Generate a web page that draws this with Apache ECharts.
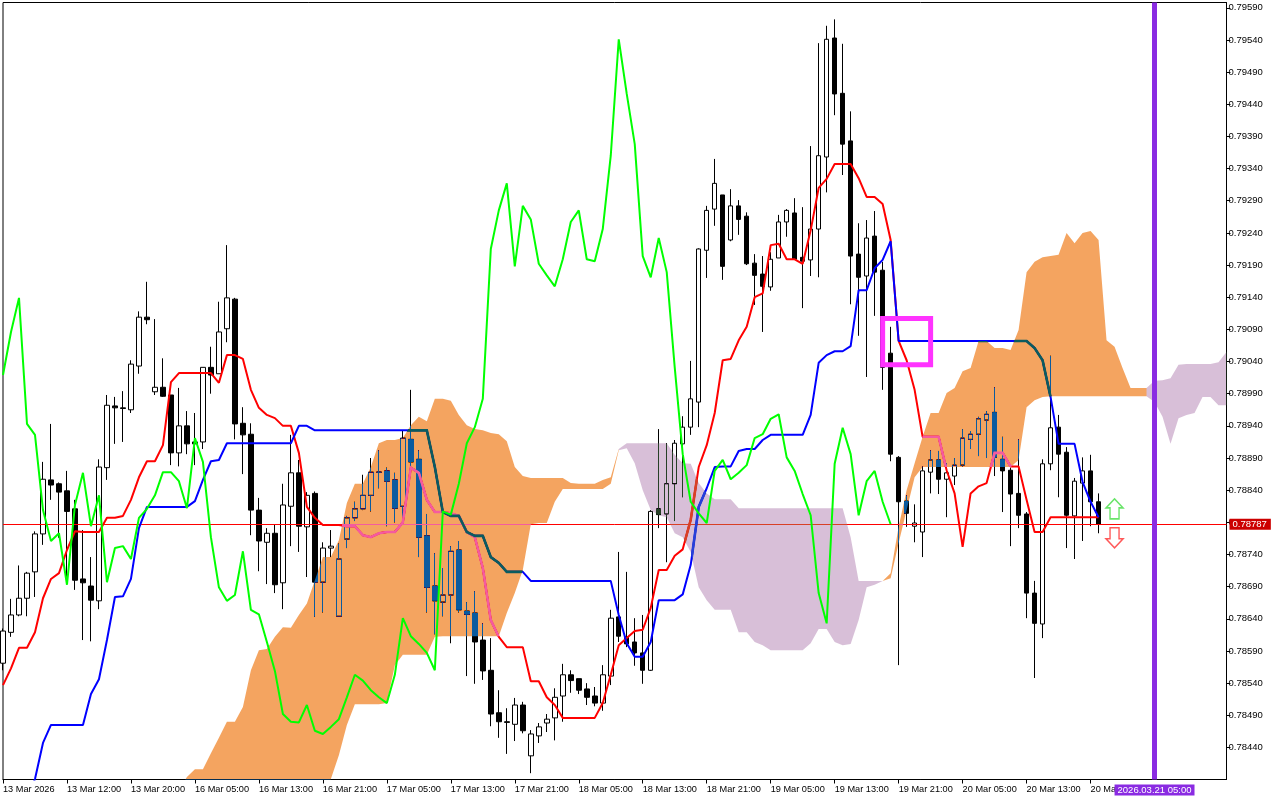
<!DOCTYPE html>
<html>
<head>
<meta charset="utf-8">
<title>Ichimoku H1</title>
<style>
  html, body { margin: 0; padding: 0; background: #fff; }
  #chart { width: 1280px; height: 800px; }
</style>
<script src="https://cdn.jsdelivr.net/npm/echarts@6/dist/echarts.min.js"></script>
</head>
<body>
<div id="chart"></div>
<script>
// ============================================================================
// Data
// ============================================================================

const xTickLabels = ['13 Mar 2026','13 Mar 12:00','13 Mar 20:00','16 Mar 05:00','16 Mar 13:00','16 Mar 21:00','17 Mar 05:00','17 Mar 13:00','17 Mar 21:00','18 Mar 05:00','18 Mar 13:00','18 Mar 21:00','19 Mar 05:00','19 Mar 13:00','19 Mar 21:00','20 Mar 05:00','20 Mar 13:00','20 Mar 21:00']
const yTickValues = [0.78440,0.78490,0.78540,0.78590,0.78640,0.78690,0.78740,0.78790,0.78840,0.78890,0.78940,0.78990,0.79040,0.79090,0.79140,0.79190,0.79240,0.79290,0.79340,0.79390,0.79440,0.79490,0.79540,0.79590]

const opens = [
  0.78571,0.78619,0.78646,0.78672,0.78713,0.78772,0.78856,0.78850,0.78839,0.78811,
  0.78702,0.78691,0.78668,0.78875,0.78971,0.78968,0.78965,0.79033,0.79109,0.78993,
  0.79000,0.78988,0.78898,0.78940,0.78915,0.78915,0.79031,0.79021,0.79091,0.79137,
  0.78944,0.78927,0.78809,0.78759,0.78773,0.78696,0.78815,0.78867,0.78783,0.78835,
  0.78697,0.78750,0.78644,0.78764,0.78797,0.78811,0.78832,0.78868,0.78870,0.78856,
  0.78815,0.78919,0.78888,0.78769,0.78691,0.78666,0.78677,0.78747,0.78652,0.78649,
  0.78607,0.78560,0.78494,0.78480,0.78476,0.78506,0.78427,0.78458,0.78478,0.78486,
  0.78520,0.78553,0.78547,0.78531,0.78520,0.78509,0.78551,0.78643,0.78612,0.78604,
  0.78587,0.78560,0.78811,0.78803,0.78850,0.78912,0.78938,0.78977,0.79213,0.79277,
  0.79299,0.79229,0.79282,0.79266,0.79193,0.79176,0.79156,0.79201,0.79257,0.79271,
  0.79202,0.79198,0.79246,0.79358,0.79543,0.79457,0.79383,0.79207,0.79173,0.79235,
  0.79182,0.79053,0.78891,0.78823,0.78784,0.78775,0.78868,0.78887,0.78857,0.78862,
  0.78879,0.78919,0.78927,0.78949,0.78961,0.78888,0.78871,0.78835,0.78803,0.78680,
  0.78632,0.78881,0.78938,0.78899,0.78800,0.78851,0.78870,0.78822
]
const closes = [
  0.78621,0.78646,0.78672,0.78711,0.78772,0.78857,0.78848,0.78837,0.78807,0.78700,
  0.78696,0.78669,0.78876,0.78972,0.78968,0.78967,0.79036,0.79109,0.79105,0.79000,
  0.78986,0.78898,0.78940,0.78912,0.78912,0.79031,0.79019,0.79086,0.79139,0.78943,
  0.78926,0.78809,0.78761,0.78773,0.78693,0.78817,0.78867,0.78784,0.78832,0.78697,
  0.78750,0.78753,0.78733,0.78797,0.78811,0.78832,0.78868,0.78868,0.78854,0.78812,
  0.78921,0.78884,0.78767,0.78689,0.78668,0.78677,0.78745,0.78654,0.78647,0.78604,
  0.78559,0.78492,0.78480,0.78479,0.78506,0.78466,0.78461,0.78472,0.78484,0.78518,
  0.78553,0.78544,0.78529,0.78518,0.78509,0.78553,0.78641,0.78613,0.78601,0.78587,
  0.78560,0.78807,0.78802,0.78850,0.78913,0.78938,0.78982,0.79215,0.79275,0.79317,
  0.79188,0.79282,0.79261,0.79192,0.79174,0.79157,0.79199,0.79257,0.79275,0.79199,
  0.79196,0.79246,0.79360,0.79541,0.79456,0.79378,0.79204,0.79171,0.79232,0.79179,
  0.79031,0.78896,0.78822,0.78804,0.78789,0.78870,0.78887,0.78857,0.78867,0.78879,
  0.78921,0.78927,0.78951,0.78958,0.78891,0.78870,0.78834,0.78801,0.78680,0.78633,
  0.78881,0.78937,0.78896,0.78801,0.78854,0.78870,0.78822,0.78787
]
const lows = [
  0.78560,0.78612,0.78644,0.78644,0.78674,0.78755,0.78825,0.78766,0.78696,0.78685,
  0.78607,0.78605,0.78655,0.78856,0.78912,0.78915,0.78960,0.79021,0.79098,0.78988,
  0.78985,0.78879,0.78877,0.78896,0.78879,0.78904,0.78990,0.79021,0.79070,0.78919,
  0.78865,0.78770,0.78714,0.78694,0.78680,0.78655,0.78753,0.78744,0.78705,0.78643,
  0.78650,0.78736,0.78644,0.78750,0.78792,0.78809,0.78807,0.78843,0.78784,0.78790,
  0.78798,0.78875,0.78736,0.78650,0.78616,0.78644,0.78602,0.78650,0.78551,0.78539,
  0.78545,0.78473,0.78455,0.78430,0.78450,0.78462,0.78400,0.78447,0.78464,0.78451,
  0.78480,0.78525,0.78523,0.78506,0.78504,0.78497,0.78537,0.78604,0.78596,0.78567,
  0.78539,0.78559,0.78781,0.78728,0.78792,0.78829,0.78926,0.78938,0.79170,0.79251,
  0.79167,0.79227,0.79237,0.79190,0.79128,0.79086,0.79150,0.79201,0.79234,0.79198,
  0.79123,0.79173,0.79171,0.79303,0.79423,0.79330,0.79129,0.79080,0.79016,0.79111,
  0.78996,0.78885,0.78568,0.78783,0.78759,0.78736,0.78835,0.78834,0.78798,0.78848,
  0.78877,0.78904,0.78893,0.78890,0.78862,0.78806,0.78753,0.78781,0.78641,0.78548,
  0.78610,0.78871,0.78829,0.78750,0.78733,0.78761,0.78784,0.78773
]
const highs = [
  0.78625,0.78671,0.78723,0.78713,0.78776,0.78884,0.78943,0.78852,0.78870,0.78825,
  0.78778,0.78736,0.78888,0.78988,0.78985,0.78994,0.79042,0.79118,0.79164,0.79106,
  0.79045,0.78988,0.78999,0.78963,0.78960,0.79031,0.79063,0.79133,0.79221,0.79139,
  0.78969,0.78944,0.78828,0.78781,0.78786,0.78850,0.78926,0.78887,0.78837,0.78838,
  0.78759,0.78778,0.78757,0.78800,0.78822,0.78864,0.78890,0.78902,0.78875,0.78867,
  0.78933,0.78996,0.78902,0.78803,0.78742,0.78719,0.78753,0.78761,0.78666,0.78683,
  0.78633,0.78610,0.78529,0.78501,0.78517,0.78511,0.78467,0.78478,0.78492,0.78532,
  0.78570,0.78560,0.78547,0.78540,0.78534,0.78568,0.78654,0.78744,0.78713,0.78641,
  0.78646,0.78809,0.78935,0.78913,0.78918,0.78955,0.79041,0.79216,0.79282,0.79355,
  0.79299,0.79308,0.79291,0.79272,0.79207,0.79204,0.79210,0.79268,0.79277,0.79294,
  0.79280,0.79375,0.79535,0.79562,0.79572,0.79534,0.79429,0.79255,0.79260,0.79274,
  0.79195,0.79094,0.78893,0.78832,0.78818,0.78877,0.78902,0.78901,0.78882,0.78890,
  0.78935,0.78932,0.78954,0.78963,0.79000,0.78923,0.78875,0.78919,0.78806,0.78699,
  0.78888,0.79049,0.78957,0.78907,0.78859,0.78891,0.78895,0.78835
]

const tenkan = [
  0.78537,0.78563,0.78595,0.78595,0.78619,0.78672,0.78702,0.78711,0.78747,0.78776,
  0.78775,0.78775,0.78775,0.78797,0.78797,0.78800,0.78825,0.78860,0.78885,0.78885,
  0.78910,0.79008,0.79022,0.79022,0.79022,0.79022,0.79022,0.79007,0.79050,0.79050,
  0.79044,0.78996,0.78968,0.78957,0.78952,0.78940,0.78940,0.78898,0.78814,0.78797,
  0.78786,0.78786,0.78786,0.78784,0.78784,0.78770,0.78767,0.78773,0.78775,0.78775,
  0.78790,0.78875,0.78867,0.78825,0.78806,0.78806,0.78804,0.78800,0.78775,0.78767,
  0.78719,0.78638,0.78612,0.78596,0.78596,0.78596,0.78543,0.78543,0.78518,0.78506,
  0.78486,0.78486,0.78486,0.78486,0.78486,0.78509,0.78553,0.78599,0.78610,0.78621,
  0.78623,0.78657,0.78716,0.78716,0.78738,0.78748,0.78794,0.78876,0.78910,0.78960,
  0.79042,0.79044,0.79073,0.79094,0.79140,0.79146,0.79221,0.79223,0.79199,0.79199,
  0.79192,0.79244,0.79310,0.79324,0.79347,0.79347,0.79347,0.79325,0.79296,0.79296,
  0.79285,0.79229,0.79072,0.79042,0.78996,0.78923,0.78923,0.78923,0.78871,0.78835,
  0.78752,0.78835,0.78846,0.78851,0.78898,0.78898,0.78877,0.78877,0.78825,0.78775,
  0.78775,0.78798,0.78798,0.78798,0.78798,0.78798,0.78798,0.78798
]
const kijun = [
  0.78280,0.78312,0.78335,0.78358,0.78391,0.78447,0.78475,0.78475,0.78475,0.78475,
  0.78475,0.78523,0.78546,0.78607,0.78674,0.78675,0.78702,0.78781,0.78814,0.78814,
  0.78814,0.78814,0.78814,0.78814,0.78823,0.78856,0.78885,0.78887,0.78913,0.78913,
  0.78913,0.78913,0.78913,0.78913,0.78913,0.78913,0.78913,0.78940,0.78940,0.78933,
  0.78933,0.78933,0.78933,0.78933,0.78933,0.78933,0.78933,0.78933,0.78933,0.78933,
  0.78933,0.78933,0.78933,0.78933,0.78876,0.78806,0.78800,0.78800,0.78775,0.78769,
  0.78769,0.78736,0.78727,0.78713,0.78713,0.78713,0.78699,0.78699,0.78699,0.78699,
  0.78699,0.78699,0.78699,0.78699,0.78699,0.78699,0.78699,0.78646,0.78602,0.78581,
  0.78581,0.78604,0.78669,0.78669,0.78669,0.78678,0.78724,0.78814,0.78843,0.78876,
  0.78877,0.78877,0.78901,0.78904,0.78904,0.78918,0.78926,0.78926,0.78926,0.78926,
  0.78926,0.78957,0.79038,0.79050,0.79056,0.79056,0.79064,0.79151,0.79151,0.79185,
  0.79198,0.79227,0.79072,0.79072,0.79072,0.79072,0.79072,0.79072,0.79072,0.79072,
  0.79072,0.79072,0.79072,0.79072,0.79072,0.79072,0.79072,0.79072,0.79072,0.79061,
  0.79042,0.78985,0.78912,0.78912,0.78912,0.78853,0.78822,0.78798
]
const chikou = [
  0.79019,0.79086,0.79139,0.78943,0.78926,0.78809,0.78761,0.78773,0.78693,0.78817,
  0.78867,0.78784,0.78832,0.78697,0.78750,0.78753,0.78733,0.78797,0.78811,0.78832,
  0.78868,0.78868,0.78854,0.78812,0.78921,0.78884,0.78767,0.78689,0.78668,0.78677,
  0.78745,0.78654,0.78647,0.78604,0.78559,0.78492,0.78480,0.78479,0.78506,0.78466,
  0.78461,0.78472,0.78484,0.78518,0.78553,0.78544,0.78529,0.78518,0.78509,0.78553,
  0.78641,0.78613,0.78601,0.78587,0.78560,0.78807,0.78802,0.78850,0.78913,0.78938,
  0.78982,0.79215,0.79275,0.79317,0.79188,0.79282,0.79261,0.79192,0.79174,0.79157,
  0.79199,0.79257,0.79275,0.79199,0.79196,0.79246,0.79360,0.79541,0.79456,0.79378,
  0.79204,0.79171,0.79232,0.79179,0.79031,0.78896,0.78822,0.78804,0.78789,0.78870,
  0.78887,0.78857,0.78867,0.78879,0.78921,0.78927,0.78951,0.78958,0.78891,0.78870,
  0.78834,0.78801,0.78680,0.78633,0.78881,0.78937,0.78896,0.78801,0.78854,0.78870,
  0.78822,0.78787
]

// cloud pieces, each one starts at its own bar index
const bullCloudAStart = 22
const bullCloudATop = [
  0.78374,0.78394,0.78406,0.78406,0.78431,0.78455,0.78480,0.78480,0.78503,0.78560,
  0.78591,0.78593,0.78612,0.78627,0.78626,0.78646,0.78664,0.78700,0.78736,0.78736,
  0.78762,0.78820,0.78850,0.78850,0.78876,0.78913,0.78918,0.78918,0.78921,0.78941,
  0.78954,0.78947,0.78982,0.78982,0.78979,0.78957,0.78941,0.78935,0.78933,0.78929,
  0.78927,0.78916,0.78876,0.78862,0.78859,0.78859,0.78859,0.78859,0.78859,0.78851,
  0.78850,0.78850,0.78850,0.78856,0.78860,0.78904
]
const bullCloudABottom = [
  0.78374,0.78358,0.78358,0.78358,0.78358,0.78358,0.78358,0.78358,0.78358,0.78358,
  0.78358,0.78358,0.78358,0.78358,0.78358,0.78358,0.78358,0.78358,0.78358,0.78391,
  0.78428,0.78475,0.78507,0.78507,0.78507,0.78507,0.78509,0.78568,0.78584,0.78584,
  0.78584,0.78584,0.78612,0.78613,0.78613,0.78613,0.78613,0.78613,0.78613,0.78613,
  0.78613,0.78649,0.78680,0.78716,0.78787,0.78789,0.78789,0.78822,0.78842,0.78842,
  0.78842,0.78842,0.78842,0.78842,0.78850,0.78902
]
const bearCloudAStart = 77
const bearCloudATop = [
  0.78904,0.78913,0.78913,0.78913,0.78913,0.78913,0.78913,0.78895,0.78882,0.78881,
  0.78851,0.78835,0.78826,0.78826,0.78826,0.78812,0.78812,0.78812,0.78812,0.78812,
  0.78812,0.78812,0.78812,0.78812,0.78812,0.78812,0.78812,0.78812,0.78812,0.78767,
  0.78699,0.78699,0.78699,0.78699
]
const bearCloudABottom = [
  0.78902,0.78905,0.78882,0.78840,0.78809,0.78801,0.78798,0.78773,0.78767,0.78744,
  0.78689,0.78669,0.78654,0.78654,0.78654,0.78619,0.78619,0.78604,0.78599,0.78591,
  0.78591,0.78591,0.78591,0.78591,0.78602,0.78624,0.78624,0.78604,0.78599,0.78601,
  0.78638,0.78689,0.78693,0.78699
]
const bullCloudBStart = 110
const bullCloudBTop = [
  0.78699,0.78711,0.78783,0.78840,0.78882,0.78923,0.78960,0.78960,0.78991,0.78999,
  0.79025,0.79030,0.79072,0.79072,0.79061,0.79061,0.79058,0.79089,0.79179,0.79195,
  0.79202,0.79204,0.79206,0.79240,0.79224,0.79240,0.79243,0.79229,0.79073,0.79063,
  0.79030,0.78999,0.78999,0.78999
]
const bullCloudBBottom = [
  0.78699,0.78703,0.78758,0.78809,0.78860,0.78876,0.78876,0.78876,0.78876,0.78876,
  0.78876,0.78876,0.78876,0.78876,0.78876,0.78876,0.78876,0.78887,0.78969,0.78980,
  0.78985,0.78986,0.78986,0.78986,0.78986,0.78986,0.78986,0.78986,0.78986,0.78986,
  0.78986,0.78986,0.78986,0.78986
]
const bearCloudBStart = 143
const bearCloudBTop = [0.78999,0.79010,0.79011,0.79014,0.79035,0.79036,0.79036,0.79036,0.79036,0.79039,0.79055]
const bearCloudBBottom = [0.78986,0.78977,0.78954,0.78912,0.78952,0.78957,0.78960,0.78985,0.78985,0.78972,0.78972]

const lastPrice = 0.78787
const expiryBar = 144
const expiryLabel = '2026.03.21 05:00'
const boxBars = [110, 116]
const boxPrices = [0.79107, 0.79035]
const arrowBar = 139
const arrowUpPrice = 0.78811
const arrowDownPrice = 0.78766

// ============================================================================
// Helpers
// ============================================================================

const _barCount = 154
const _font = 'Liberation Sans'
const categories = []
for (let i = 0; i < _barCount; i++) {
    categories.push(i % 8 === 0 && xTickLabels[i / 8] ? xTickLabels[i / 8] : '')
}
const _hasTick = (idx, value) => value !== ''

// difference blend over white gives sandybrown / thistle, and flips the candles
// and lines underneath the same way the terminal does
const _bull = {fill: '#0B5B9F', tenkan: '#F45B9F', kijun: '#0B5B60'}
const _bear = {fill: '#274027', tenkan: '#D84027', kijun: '#2740D8'}
const _cloudPieces = [
    {start: bullCloudAStart, top: bullCloudATop, bottom: bullCloudABottom, colors: _bull},
    {start: bearCloudAStart, top: bearCloudATop, bottom: bearCloudABottom, colors: _bear},
    {start: bullCloudBStart, top: bullCloudBTop, bottom: bullCloudBBottom, colors: _bull},
    {start: bearCloudBStart, top: bearCloudBTop, bottom: bearCloudBBottom, colors: _bear},
]

function _cloudPoints(piece, api) {
    const upper = piece.top.map((v, k) => api.coord([piece.start + k, v]))
    const lower = piece.bottom.map((v, k) => api.coord([piece.start + k, v])).reverse()
    return upper.concat(lower)
}

function _renderCloud(params, api) {
    const piece = _cloudPieces[params.dataIndex]
    return {
        type: 'polygon',
        shape: {points: _cloudPoints(piece, api)},
        style: {fill: piece.colors.fill, stroke: null},
    }
}

// the blend leaves dark fringes on the antialiased lines, so redraw them clean inside the cloud
function _renderCloudLines(params, api) {
    const piece = _cloudPieces[params.dataIndex]
    const clip = {type: 'polygon', shape: {points: _cloudPoints(piece, api)}}
    const stroke = (values, color) => ({
        type: 'polyline',
        shape: {points: values.map((v, i) => api.coord([i, v]))},
        style: {fill: null, stroke: color, lineWidth: 2.6},
        clipPath: clip,
    })
    return {
        type: 'group',
        children: [stroke(tenkan, piece.colors.tenkan), stroke(kijun, piece.colors.kijun)],
    }
}

function _renderBox(params, api) {
    const a = api.coord([api.value(0), api.value(2)])
    const b = api.coord([api.value(1), api.value(3)])
    return {
        type: 'rect',
        shape: {x: a[0], y: a[1], width: b[0] - a[0], height: b[1] - a[1]},
        style: {fill: null, stroke: '#FF33FF', lineWidth: 5},
    }
}

function _lineSeries(name, data, color, z) {
    return {
        name: name,
        type: 'line',
        data: data,
        z: z,
        showSymbol: false,
        silent: true,
        lineStyle: {color: color, width: 2},
    }
}

function _arrowSeries(price, path, color) {
    return {
        type: 'scatter',
        data: [[arrowBar, price]],
        z: 6,
        silent: true,
        symbol: path,
        symbolSize: [17, 20],
        itemStyle: {color: '#fff', borderColor: color, borderWidth: 1.5},
    }
}

// ============================================================================
// Entrypoint
// ============================================================================

const chart = echarts.init(document.getElementById('chart'))
chart.setOption({
    animation: false,
    backgroundColor: '#fff',
    grid: {left: 2.5, top: 2.5, width: 1224, height: 777, show: true, borderColor: '#000', borderWidth: 1, backgroundColor: 'transparent'},
    xAxis: {
        type: 'category',
        data: categories,
        boundaryGap: false,
        axisLine: {lineStyle: {color: '#000', width: 1}},
        axisTick: {length: 4, interval: _hasTick, lineStyle: {color: '#000'}},
        axisLabel: {
            interval: _hasTick,
            align: 'left',
            margin: 5,
            color: '#000',
            fontFamily: _font,
            fontSize: 9.2,
        },
        splitLine: {show: false},
    },
    yAxis: {
        type: 'value',
        position: 'right',
        min: 0.783902,
        max: 0.795982,
        axisLine: {show: true, lineStyle: {color: '#000', width: 1}},
        axisTick: {show: true, length: 4, customValues: yTickValues, lineStyle: {color: '#000'}},
        axisLabel: {
            customValues: yTickValues,
            formatter: v => v.toFixed(5),
            margin: 2,
            padding: [2, 0, 0, 0],
            color: '#000',
            fontFamily: _font,
            fontSize: 9.5,
        },
        splitLine: {show: false},
    },
    series: [
        {
            type: 'candlestick',
            data: opens.map((o, i) => [o, closes[i], lows[i], highs[i]]),
            z: 1,
            silent: true,
            barWidth: 5,
            itemStyle: {color: '#fff', color0: '#000', borderColor: '#000', borderColor0: '#000', borderWidth: 1},
        },
        {
            type: 'line',
            data: [],
            silent: true,
            markLine: {
                z: 2,
                silent: true,
                symbol: 'none',
                precision: 5,
                data: [{yAxis: lastPrice}],
                lineStyle: {color: '#FF0000', width: 1, type: 'solid'},
                label: {
                    position: 'end',
                    distance: 3,
                    formatter: lastPrice.toFixed(5),
                    color: '#fff',
                    backgroundColor: '#CC0000',
                    padding: [1, 4, 0, 3],
                    fontFamily: _font,
                    fontSize: 9.5,
                },
            },
        },
        _lineSeries('Tenkan', tenkan, '#FF0000', 2),
        _lineSeries('Kijun', kijun, '#0000FF', 2),
        {
            type: 'custom',
            data: _cloudPieces.map(p => [p.start, p.top[0]]),
            encode: {x: 0, y: 1},
            renderItem: _renderCloud,
            z: 3,
            clip: true,
            silent: true,
            blendMode: 'difference',
        },
        {
            type: 'custom',
            data: _cloudPieces.map(p => [p.start, p.top[0]]),
            encode: {x: 0, y: 1},
            renderItem: _renderCloudLines,
            z: 3,
            clip: true,
            silent: true,
        },
        _lineSeries('Chikou', chikou, '#00FF00', 4),
        {
            type: 'custom',
            data: [[boxBars[0], boxBars[1], boxPrices[0], boxPrices[1]]],
            encode: {x: [0, 1], y: [2, 3]},
            renderItem: _renderBox,
            z: 5,
            silent: true,
        },
        _arrowSeries(arrowUpPrice, 'path://M8.5 0L17 9L13 9L13 20L4 20L4 9L0 9Z', '#44DD44'),
        _arrowSeries(arrowDownPrice, 'path://M4 0L13 0L13 11L17 11L8.5 20L0 11L4 11Z', '#FF3030'),
        {
            type: 'line',
            data: [],
            silent: true,
            markLine: {
                z: 5,
                silent: true,
                symbol: 'none',
                data: [{xAxis: expiryBar}],
                lineStyle: {color: '#8A2BE2', width: 5, type: 'solid'},
                label: {
                    position: 'start',
                    distance: 5,
                    formatter: expiryLabel,
                    color: '#fff',
                    backgroundColor: '#8A2BE2',
                    padding: [1, 3, 0, 3],
                    fontFamily: _font,
                    fontSize: 9.5,
                },
            },
        },
    ],
})
</script>
</body>
</html>
